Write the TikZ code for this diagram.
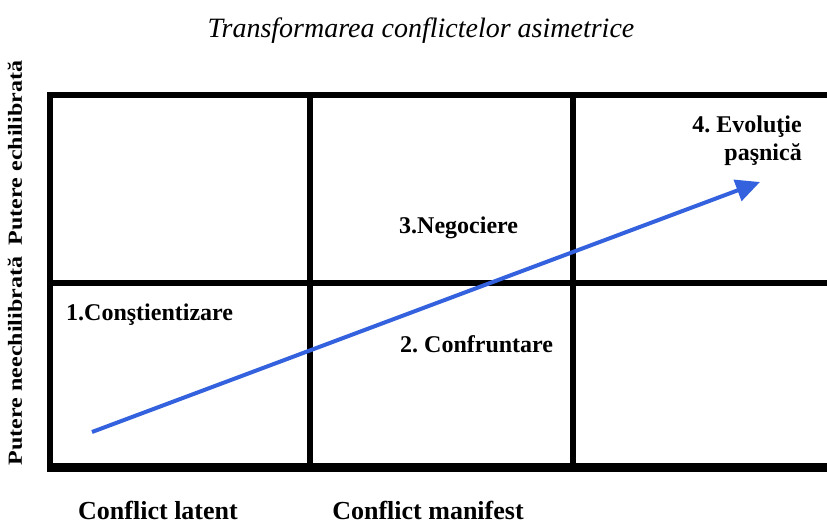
\documentclass[tikz,border=0pt]{standalone}
\usepackage{fontspec}
\setmainfont{Liberation Serif}
\usetikzlibrary{arrows.meta}
\definecolor{arrowblue}{RGB}{52,98,222}
\frenchspacing
\begin{document}
\begin{tikzpicture}[x=1pt,y=-1pt,
grid/.style={line width=6pt},
cell/.style={font=\fontsize{24}{28}\selectfont\bfseries, inner sep=0pt},
axis/.style={font=\fontsize{26}{30}\selectfont\bfseries, inner sep=0pt},
side/.style={font=\fontsize{20}{24}\selectfont\bfseries, inner sep=0pt, rotate=90}]
\useasboundingbox (0,0) rectangle (827,525);
\node[font=\fontsize{28}{32}\selectfont\itshape] (title) at (421,31) {Transformarea conflictelor asimetrice};
% grid
\draw[grid] (827,95)--(50,95)--(50,467);
\draw[line width=9pt] (47,467)--(827,467);
\draw[grid] (50,283)--(827,283);
\draw[grid] (310,95)--(310,467);
\draw[grid] (573,95)--(573,467);
% stages
\node[cell, anchor=base west] (aware) at (66,320) {1.Conştientizare};
\node[cell, anchor=base west] (clash) at (400,352) {2. Confruntare};
\node[cell, anchor=base west] (talks) at (399,233) {3.Negociere};
\node[cell, align=right, anchor=north east] (peace) at (802,116) {4. Evoluţie\\paşnică};
% axes
\node[side] (unbalanced) at (15,361) {\scalebox{1.2}[1]{Putere neechilibrată}};
\node[side] (balanced) at (15,153) {\scalebox{1.2}[1]{Putere echilibrată}};
\node[axis, anchor=base] (latent) at (158,519) {Conflict latent};
\node[axis, anchor=base] (manifest) at (428,519) {Conflict manifest};
% path
\coordinate (start) at (92,432);
\coordinate (end) at (760,182);
\draw[arrowblue, line width=4pt, -{Triangle[length=24pt,width=22pt]}] (start)--(end);
\end{tikzpicture}
\end{document}
